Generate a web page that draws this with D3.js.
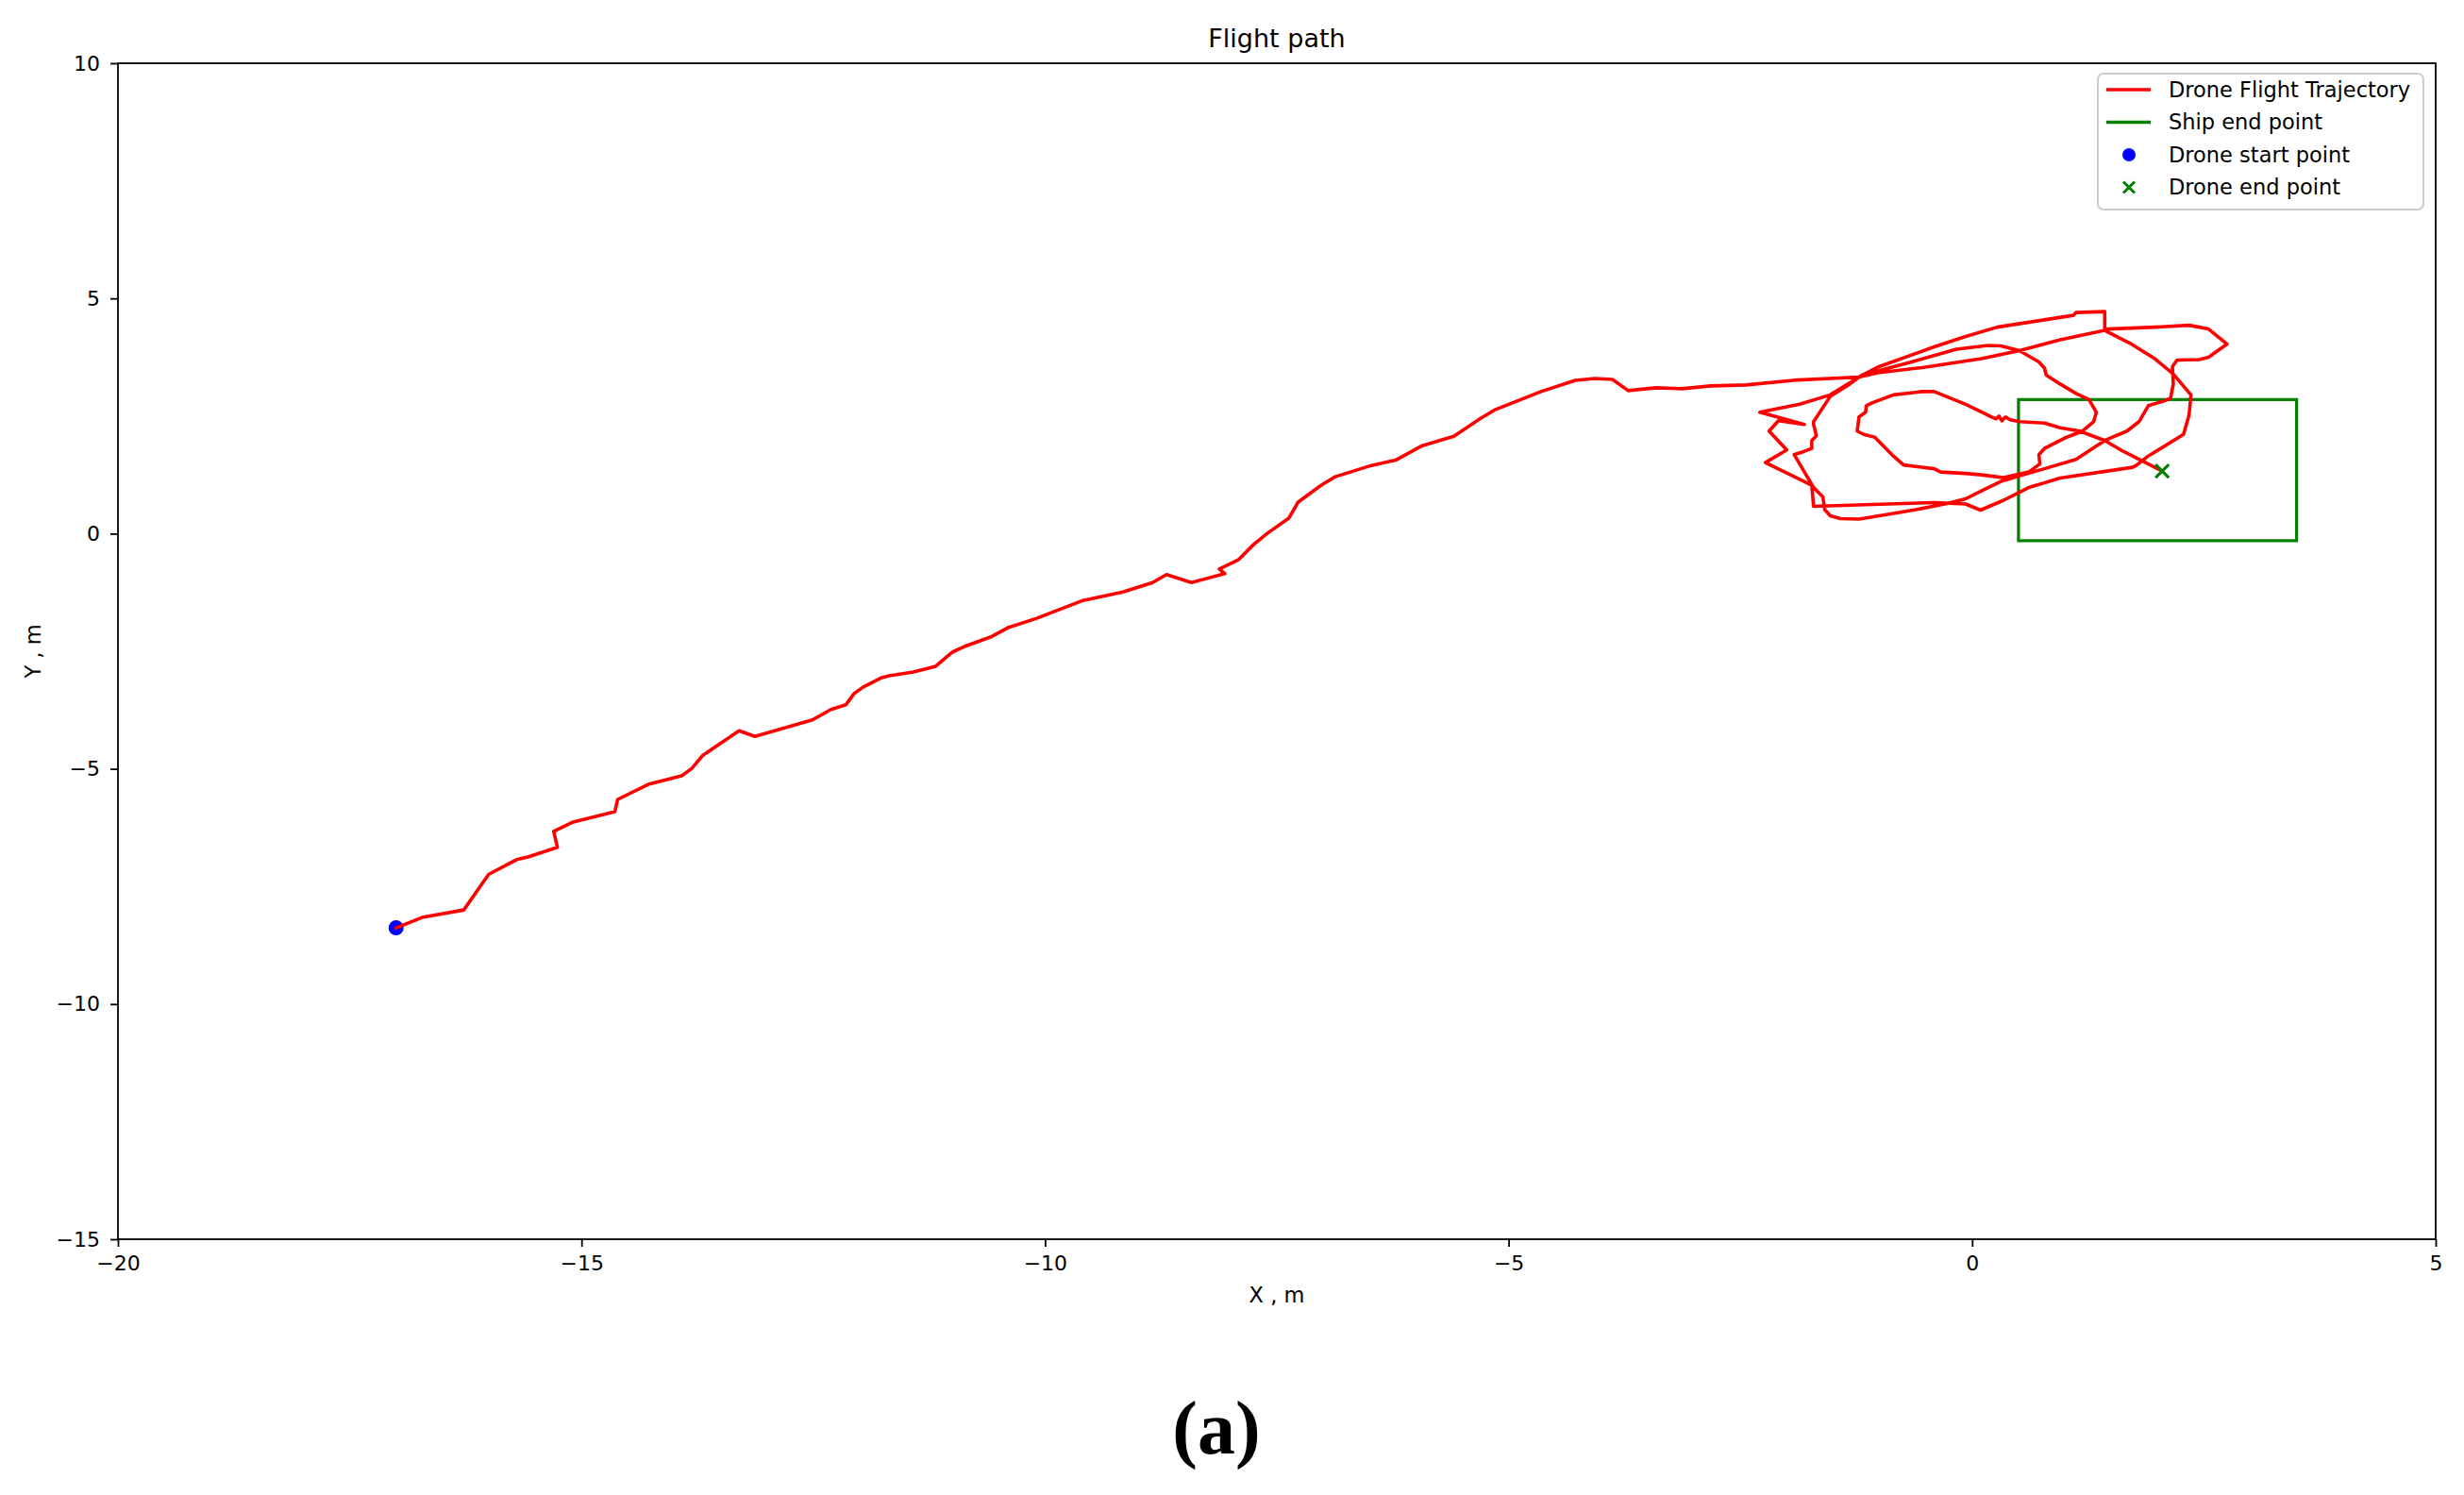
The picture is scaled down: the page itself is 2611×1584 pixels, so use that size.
<!DOCTYPE html>
<html><head><meta charset="utf-8">
<script src="https://cdn.jsdelivr.net/npm/d3@7"></script>
<style>body{margin:0;background:#fff} svg{display:block}</style>
</head><body>
<svg id="chart" width="2611" height="1584"></svg>
<script>
// ---------- data ----------
const xTicks = [-20, -15, -10, -5, 0, 5];
const yTicks = [-15, -10, -5, 0, 5, 10];
const xDomain = [-20, 5];
const yDomain = [-15, 10];

const droneStart = [-17.0, -8.38];
const droneEnd = [2.05, 1.33];
const shipBoxX = [0.5, 3.5];
const shipBoxY = [-0.15, 2.85];

const trajectory = [
  [-17.00,-8.38],[-16.72,-8.16],[-16.27,-8.00],[-16.00,-7.24],[-15.70,-6.93],[-15.57,-6.87],
  [-15.26,-6.67],[-15.30,-6.33],[-15.09,-6.13],[-14.64,-5.91],[-14.61,-5.65],[-14.28,-5.33],
  [-13.92,-5.15],[-13.81,-4.99],[-13.69,-4.71],[-13.30,-4.19],[-13.13,-4.31],[-12.51,-3.96],
  [-12.31,-3.74],[-12.15,-3.64],[-12.06,-3.40],[-11.96,-3.26],[-11.76,-3.06],[-11.68,-3.02],
  [-11.42,-2.94],[-11.18,-2.82],[-11.00,-2.52],[-10.87,-2.40],[-10.59,-2.20],[-10.40,-2.00],
  [-10.09,-1.80],[-9.59,-1.42],[-9.16,-1.24],[-8.84,-1.04],[-8.69,-0.87],[-8.42,-1.04],
  [-8.06,-0.85],[-8.12,-0.75],[-7.91,-0.55],[-7.75,-0.23],[-7.60,0.01],[-7.37,0.33],
  [-7.27,0.67],[-7.02,1.03],[-6.87,1.21],[-6.48,1.45],[-6.21,1.57],[-5.93,1.87],
  [-5.59,2.07],[-5.31,2.44],[-5.14,2.64],[-4.65,3.02],[-4.28,3.26],[-4.07,3.30],
  [-3.88,3.28],[-3.71,3.04],[-3.41,3.10],[-3.13,3.08],[-2.82,3.14],[-2.44,3.16],
  [-1.93,3.26],[-1.22,3.33],[-1.02,3.42],[-0.54,3.53],[0.10,3.72],[0.51,3.89],
  [0.95,4.12],[1.43,4.32],
  // right loop
  [1.50,4.25],[1.70,4.05],[1.97,3.72],[2.17,3.39],[2.36,2.95],[2.34,2.52],[2.28,2.11],
  [1.90,1.65],[1.77,1.45],[1.73,1.41],[0.95,1.18],[0.61,0.98],[0.34,0.71],[0.09,0.50],
  [-0.07,0.63],[-0.41,0.66],[-0.91,0.63],[-1.71,0.58],[-1.73,1.03],[-2.23,1.51],
  [-2.00,1.78],[-2.19,2.18],[-2.09,2.40],[-1.81,2.32],[-2.29,2.58],[-1.86,2.75],
  [-1.53,2.95],[-1.22,3.33],[-1.02,3.54],[-0.41,3.97],[-0.07,4.19],[0.27,4.39],
  [1.09,4.64],[1.12,4.70],[1.43,4.72],[1.43,4.32],
  // top-right excursion
  [1.46,4.35],[1.97,4.39],[2.34,4.43],[2.55,4.35],[2.75,4.03],[2.55,3.75],[2.45,3.70],
  [2.21,3.69],[2.16,3.55],[2.17,3.18],[2.14,2.88],[2.07,2.82],[1.90,2.72],[1.85,2.55],
  [1.80,2.38],[1.67,2.18],[1.43,1.98],[1.12,1.58],[0.78,1.38],[0.55,1.25],[0.31,1.11],
  [0.10,0.91],[-0.07,0.74],[-0.27,0.64],[-0.61,0.51],[-0.91,0.41],[-1.22,0.31],
  [-1.42,0.32],[-1.53,0.38],[-1.59,0.51],[-1.61,0.78],[-1.71,0.98],[-1.92,1.68],
  [-1.81,1.75],[-1.73,1.81],[-1.73,1.98],[-1.68,2.08],[-1.71,2.32],[-1.71,2.38],
  [-1.53,2.92],[-1.32,3.18],[-1.19,3.37],[-0.71,3.62],[-0.17,3.92],[0.17,4.00],
  [0.31,3.99],[0.51,3.89],[0.72,3.65],[0.78,3.52],[0.80,3.37],[0.95,3.18],[1.12,2.98],
  [1.26,2.85],[1.34,2.58],[1.31,2.38],[1.19,2.18],[1.02,2.05],[0.78,1.81],[0.72,1.68],
  [0.73,1.48],[0.61,1.31],[0.34,1.19],[0.10,1.25],[-0.07,1.28],[-0.34,1.31],[-0.41,1.38],
  [-0.74,1.46],[-0.85,1.65],[-0.95,1.85],[-1.05,2.05],[-1.17,2.11],[-1.24,2.18],
  [-1.22,2.48],[-1.15,2.58],[-1.14,2.72],[-1.08,2.78],[-0.85,2.95],[-0.54,3.02],
  [-0.41,3.02],[-0.07,2.75],[0.14,2.55],
  // small wiggle and final approach
  [0.21,2.48],[0.26,2.44],[0.29,2.50],[0.32,2.40],[0.36,2.48],[0.41,2.42],
  [0.51,2.38],[0.78,2.35],[0.95,2.25],[1.16,2.18],[1.43,1.98],[1.63,1.75],[1.87,1.51],
  [2.05,1.33]
];

const legendLabels = ["Drone Flight Trajectory", "Ship end point", "Drone start point", "Drone end point"];
const legendKinds = ["line", "line", "dot", "cross"];
const legendColors = ["#ff0000", "#008000", "#0000ff", "#008000"];

const titleText = "Flight path";
const xLabelText = "X , m";
const yLabelText = "Y , m";
const panelText = "(a)";

// ---------- layout ----------
const W = 2611, H = 1584;
const M = {left: 125, right: 30, top: 67, bottom: 271};
const FONT = "DejaVu Sans, sans-serif";
const svg = d3.select("#chart");

const x = d3.scaleLinear().domain(xDomain).range([M.left, W - M.right]);
const y = d3.scaleLinear().domain(yDomain).range([H - M.bottom, M.top]);

// axes
const gx = svg.append("g").attr("transform", `translate(0,${H - M.bottom})`)
  .call(d3.axisBottom(x).tickValues(xTicks).tickSize(8).tickPadding(9));
const gy = svg.append("g").attr("transform", `translate(${M.left},0)`)
  .call(d3.axisLeft(y).tickValues(yTicks).tickSize(8).tickPadding(11));
[gx, gy].forEach(g => {
  g.select(".domain").remove();
  g.selectAll(".tick line").attr("stroke", "#000").attr("stroke-width", 1.8);
  g.selectAll(".tick text").attr("fill", "#000").style("font-family", FONT).style("font-size", "22px");
});

// ship box
svg.append("rect")
  .attr("x", x(shipBoxX[0])).attr("y", y(shipBoxY[1]))
  .attr("width", x(shipBoxX[1]) - x(shipBoxX[0]))
  .attr("height", y(shipBoxY[0]) - y(shipBoxY[1]))
  .attr("fill", "none").attr("stroke", "#008000").attr("stroke-width", 3.2);

// start point
svg.append("circle").attr("cx", x(droneStart[0])).attr("cy", y(droneStart[1]))
  .attr("r", 8).attr("fill", "#0000ff");

// trajectory
const line = d3.line().x(d => x(d[0])).y(d => y(d[1]));
svg.append("path").datum(trajectory).attr("d", line)
  .attr("fill", "none").attr("stroke", "#ff0000").attr("stroke-width", 3.6)
  .attr("stroke-linejoin", "round").attr("stroke-linecap", "square");

// end marker
function cross(g, cx, cy, s, color, w) {
  g.append("path").attr("d", `M${cx - s},${cy - s}L${cx + s},${cy + s}M${cx - s},${cy + s}L${cx + s},${cy - s}`)
    .attr("stroke", color).attr("stroke-width", w).attr("fill", "none");
}
cross(svg, x(droneEnd[0]), y(droneEnd[1]), 7, "#008000", 3.2);

// frame
svg.append("rect").attr("x", M.left).attr("y", M.top)
  .attr("width", W - M.left - M.right).attr("height", H - M.top - M.bottom)
  .attr("fill", "none").attr("stroke", "#000").attr("stroke-width", 1.8);

// title & labels
svg.append("text").attr("x", (x.range()[0] + x.range()[1]) / 2).attr("y", 50)
  .attr("text-anchor", "middle").style("font-family", FONT).style("font-size", "27px").text(titleText);
svg.append("text").attr("x", (x.range()[0] + x.range()[1]) / 2).attr("y", 1380)
  .attr("text-anchor", "middle").style("font-family", FONT).style("font-size", "22.5px").text(xLabelText);
svg.append("text").attr("transform", `translate(43,${(y.range()[0] + y.range()[1]) / 2}) rotate(-90)`)
  .attr("text-anchor", "middle").style("font-family", FONT).style("font-size", "22.5px").text(yLabelText);
svg.append("text").attr("x", 1289).attr("y", 1540).attr("text-anchor", "middle")
  .style("font-family", "Liberation Serif, Times New Roman, serif").style("font-weight", "bold")
  .style("font-size", "80px").text(panelText);

// legend
const lg = svg.append("g");
lg.append("rect").attr("x", 2223).attr("y", 78).attr("width", 345).attr("height", 144).attr("rx", 6)
  .attr("fill", "#fff").attr("fill-opacity", 0.8).attr("stroke", "#cccccc").attr("stroke-width", 2);
const rows = lg.selectAll("g.row").data(legendLabels).join("g").attr("class", "row")
  .attr("transform", (d, i) => `translate(2232,${95 + i * 34.5})`);
rows.each(function(d, i) {
  const g = d3.select(this);
  const kind = legendKinds[i], c = legendColors[i];
  if (kind === "line") g.append("line").attr("x1", 0).attr("x2", 47).attr("y1", 0).attr("y2", 0)
    .attr("stroke", c).attr("stroke-width", 3.4);
  else if (kind === "dot") g.append("circle").attr("cx", 24).attr("cy", 0).attr("r", 7).attr("fill", c);
  else cross(g, 24, 0, 6, c, 3);
  g.append("text").attr("x", 66).attr("y", 0).attr("dy", "0.35em")
    .style("font-family", FONT).style("font-size", "22.5px").attr("fill", "#000").text(d);
});
</script>
</body></html>
